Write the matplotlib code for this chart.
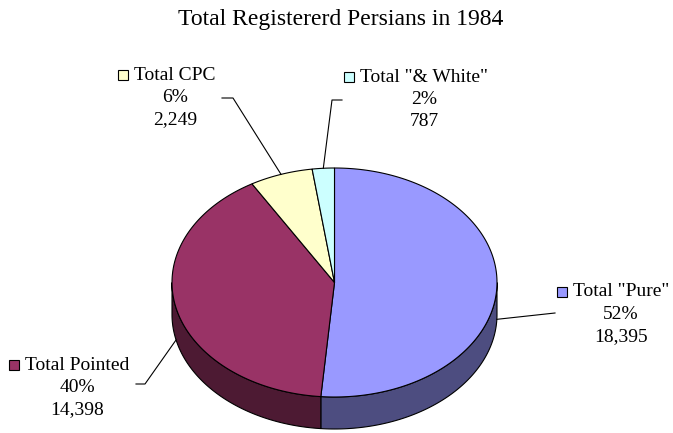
import numpy as np
import matplotlib.pyplot as plt
from matplotlib.patches import Rectangle

# Data
labels = ['Total "Pure"', 'Total Pointed', 'Total CPC', 'Total "& White"']
values = [18395, 14398, 2249, 787]
pct_labels = ['52%', '40%', '6%', '2%']
colors = ['#9999FF', '#993366', '#FFFFCC', '#CCFFFF']

plt.rcParams['font.family'] = ['Liberation Serif', 'DejaVu Serif']

fig = plt.figure(figsize=(6.73, 4.33), dpi=100)
ax = fig.add_axes([0, 0, 1, 1])
ax.set_xlim(0, 673)
ax.set_ylim(433, 0)
ax.axis('off')

# ellipse geometry of the 3D pie
cx, cy, a, b, depth = 334.5, 282.5, 162.5, 114.5, 32


def ell(t, dy=0.0):
    return cx + a * np.cos(t), cy - b * np.sin(t) + dy


fracs = np.array(values) / sum(values)
starts = np.deg2rad(90 - 360 * np.concatenate([[0], np.cumsum(fracs)[:-1]]))
ends = starts - 2 * np.pi * fracs


def darker(c, f=0.5):
    r, g, bl = plt.matplotlib.colors.to_rgb(c)
    return (r * f, g * f, bl * f)


# side walls (front half only)
for s, e, c in zip(starts, ends, colors):
    for k in (0, -1):
        lo = max(e, -np.pi + 2 * np.pi * k)
        hi = min(s, 0 + 2 * np.pi * k)
        if hi <= lo:
            continue
        t = np.linspace(hi, lo, 100)
        x1, y1 = ell(t)
        x2, y2 = ell(t[::-1], depth)
        ax.fill(np.concatenate([x1, x2]), np.concatenate([y1, y2]),
                facecolor=darker(c), edgecolor='black', linewidth=0.8)

# top face
for s, e, c in zip(starts, ends, colors):
    t = np.linspace(s, e, 200)
    x, y = ell(t)
    ax.fill(np.concatenate([[cx], x, [cx]]), np.concatenate([[cy], y, [cy]]),
            facecolor=c, edgecolor='black', linewidth=0.8)

# labels with leader lines
mids = (starts + ends) / 2
label_pos = [(621, 292), (77, 365), (175, 75), (424, 77)]
elbows = [None, (145, 384), (233, 98), (332, 100)]
line_ends = [(555, 313), (136, 384), (222, 98), (342, 100)]
fs = 14
for i in range(len(values)):
    px, py = ell(mids[i], depth if np.sin(mids[i]) < 0 else 0)
    pts = [(px, py)]
    if elbows[i] is not None:
        pts.append(elbows[i])
    pts.append(line_ends[i])
    ax.plot([p[0] for p in pts], [p[1] for p in pts], color='black', lw=0.8)
    lx, ly = label_pos[i]
    t = ax.text(lx, ly, labels[i], ha='center', va='center', fontsize=fs)
    fig.canvas.draw()
    bb = t.get_window_extent().transformed(ax.transData.inverted())
    x0 = min(bb.x0, bb.x1)
    ax.add_patch(Rectangle((x0 - 16, ly - 5), 10, 10, facecolor=colors[i],
                           edgecolor='black', linewidth=0.8))
    ax.text(lx, ly + 22.5, pct_labels[i], ha='center', va='center', fontsize=fs)
    ax.text(lx, ly + 44.5, f'{values[i]:,}', ha='center', va='center', fontsize=fs)

ax.text(341, 20, 'Total Registererd Persians in 1984', ha='center',
        va='center', fontsize=17)

fig.savefig('out.png', dpi=100)
